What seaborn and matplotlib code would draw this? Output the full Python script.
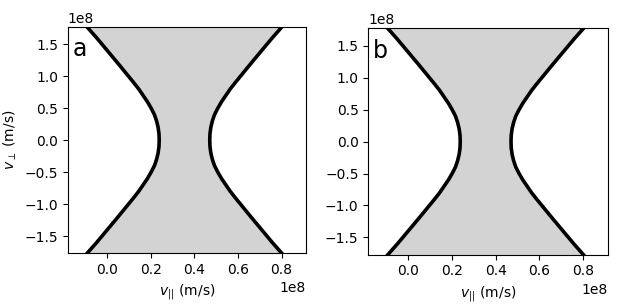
import numpy as np
import pandas as pd
import matplotlib
matplotlib.use('Agg')
import matplotlib.pyplot as plt
import seaborn as sns

# resonance curves, in units of 1e8 m/s
v_perp = np.array([-1.85, -1.77, -1.6, -1.4, -1.2, -1.0, -0.9, -0.8, -0.7, -0.6, -0.5, -0.4, -0.3, -0.2, -0.1, 0.0,
                   0.1, 0.2, 0.3, 0.4, 0.5, 0.6, 0.7, 0.8, 0.9, 1.0, 1.2, 1.4, 1.6, 1.77, 1.85]) * 1e8
v_par_left = np.array([-0.113, -0.093, -0.049, 0.000, 0.049, 0.097, 0.121, 0.144, 0.164, 0.184, 0.201,
                       0.216, 0.226, 0.233, 0.237, 0.238,
                       0.237, 0.233, 0.226, 0.216, 0.201, 0.184, 0.164, 0.144, 0.121, 0.097,
                       0.049, 0.000, -0.049, -0.093, -0.113]) * 1e8
v_par_right = np.array([0.820, 0.801, 0.757, 0.708, 0.659, 0.611, 0.587, 0.564, 0.544, 0.524, 0.507,
                        0.492, 0.482, 0.475, 0.471, 0.470,
                        0.471, 0.475, 0.482, 0.492, 0.507, 0.524, 0.544, 0.564, 0.587, 0.611,
                        0.659, 0.708, 0.757, 0.801, 0.820]) * 1e8
panel_labels = ['a', 'b']

df = pd.DataFrame({'vperp': v_perp, 'left': v_par_left, 'right': v_par_right})

fig = plt.figure(figsize=(6.23, 3.06), dpi=100)
ax_a = fig.add_axes([0.1087, 0.1722, 0.3825, 0.7395])
ax_b = fig.add_axes([0.5912, 0.1676, 0.3843, 0.7395])

for ax, lab in zip([ax_a, ax_b], panel_labels):
    ax.fill_betweenx(df['vperp'], df['left'], df['right'], color='lightgray', lw=0)
    sns.lineplot(data=df, x='left', y='vperp', sort=False, orient='y', color='black', lw=2.6, ax=ax)
    sns.lineplot(data=df, x='right', y='vperp', sort=False, orient='y', color='black', lw=2.6, ax=ax)
    ax.set_xlim(-0.182e8, 0.912e8)
    ax.set_ylim(-1.77e8, 1.77e8)
    ax.set_xticks([0, 0.2e8, 0.4e8, 0.6e8, 0.8e8])
    ax.set_yticks([-1.5e8, -1.0e8, -0.5e8, 0, 0.5e8, 1.0e8, 1.5e8])
    ax.ticklabel_format(axis='both', style='sci', scilimits=(8, 8))
    ax.set_xlabel(r'$v_{||}$ (m/s)')
    ax.set_ylabel('')
    ax.text(0.02, 0.87, lab, transform=ax.transAxes, fontsize=17, va='baseline')

ax_a.set_ylabel(r'$v_\perp$ (m/s)')

plt.savefig('out.png', dpi=100)
